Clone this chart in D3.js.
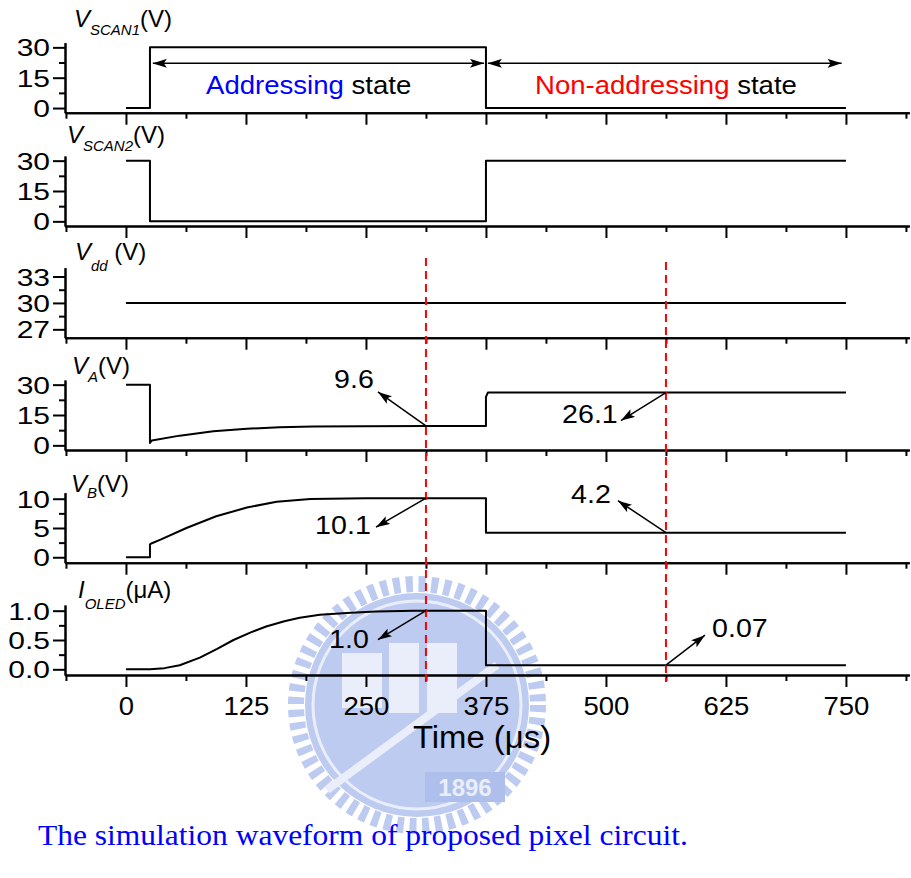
<!DOCTYPE html>
<html>
<head>
<meta charset="utf-8">
<script src="https://cdn.jsdelivr.net/npm/d3@7"></script>
<style>
  body { margin: 0; background: #fff; }
  svg { display: block; }
  text { font-family: "Liberation Sans", Arial, sans-serif; }
  text.caption { font-family: "Liberation Serif", "Times New Roman", serif; }
</style>
</head>
<body>
<div id="chart"></div>
<script>
// time axis ticks (us)
const timeTicks = [0, 125, 250, 375, 500, 625, 750];
const timeMinor = [-62.5, 62.5, 187.5, 312.5, 437.5, 562.5, 687.5, 812.5];

// waveforms, [time (us), value]
const vScan1 = [[0, 0], [25, 0], [25, 30], [375, 30], [375, 0], [750, 0]];
const vScan2 = [[0, 30], [25, 30], [25, 0], [375, 0], [375, 30], [750, 30]];
const vDD = [[0, 30], [750, 30]];
const vA = [[0, 30], [25, 30], [25, 1.2], [27, 2.4], [56, 4.8], [91, 7.0], [126, 8.2], [160, 8.9],
            [195, 9.3], [247, 9.5], [312.5, 9.6], [375, 9.6], [375, 24], [377, 26.1], [750, 26.1]];
const vB = [[0, 0], [25, 0], [25, 2.2], [27, 2.4], [36, 3.0], [63, 5.0], [94, 7.0], [126, 8.5],
            [157, 9.5], [192, 9.95], [250, 10.1], [375, 10.1], [375, 4.2], [750, 4.2]];
const iOLED = [[0, 0], [25, 0], [40, 0.02], [56, 0.07], [77, 0.2], [95, 0.35], [112, 0.5], [130, 0.63],
               [146, 0.73], [165, 0.82], [181, 0.88], [202, 0.93], [230, 0.96], [260, 0.985], [300, 0.998],
               [375, 1.0], [375, 0.07], [750, 0.07]];

// y ticks for each panel
const scanTicks = [0, 15, 30], scanMinor = [7.5, 22.5];
const vddTicks = [27, 30, 33], vddMinor = [28.5, 31.5];
const vbTicks = [0, 5, 10], vbMinor = [2.5, 7.5];
const iTicks = [0, 0.5, 1.0], iMinor = [0.25, 0.75];

// readouts marked with arrows
const markerTimes = [312.5, 562.5];

const W = 911, H = 878;
const SX = 1.1;   // the source text is slightly wide
const SXY = 1.25; // y tick labels are wider still

const svg = d3.select("#chart").append("svg")
    .attr("width", W)
    .attr("height", H);

const defs = svg.append("defs");
defs.append("marker")
    .attr("id", "head")
    .attr("viewBox", "0 0 14 9")
    .attr("refX", 14).attr("refY", 4.5)
    .attr("markerWidth", 14).attr("markerHeight", 9)
    .attr("markerUnits", "userSpaceOnUse")
    .attr("orient", "auto-start-reverse")
    .append("path")
    .attr("d", "M0,0 L14,4.5 L0,9 L3,4.5 z")
    .attr("fill", "black");

// faint watermark behind the plot
const wm = svg.append("g").attr("transform", "translate(417,705)").attr("opacity", 0.75);
const wmColor = "#a8baec", wmLight = "#e3e9f9";
wm.append("circle").attr("r", 121).attr("fill", "none")
    .attr("stroke", wmColor).attr("stroke-width", 16)
    .attr("stroke-dasharray", "7,5.7");
wm.append("circle").attr("r", 112).attr("fill", wmColor);
wm.append("circle").attr("r", 104).attr("fill", "none").attr("stroke", wmLight).attr("stroke-width", 3);
wm.append("rect").attr("x", -75).attr("y", -52).attr("width", 40).attr("height", 55).attr("fill", wmLight);
wm.append("rect").attr("x", -28).attr("y", -62).attr("width", 30).attr("height", 70).attr("fill", wmLight);
wm.append("rect").attr("x", 10).attr("y", -62).attr("width", 30).attr("height", 70).attr("fill", wmLight);
wm.append("line").attr("x1", -90).attr("y1", 85).attr("x2", 80).attr("y2", -40)
    .attr("stroke", wmLight).attr("stroke-width", 8);
wm.append("rect").attr("x", 8).attr("y", 67).attr("width", 80).attr("height", 30).attr("fill", "#93aae6");
wm.append("text").attr("x", 48).attr("y", 91).attr("text-anchor", "middle")
    .attr("font-size", 24).attr("font-weight", "bold").attr("fill", wmLight).text("1896");

// shared time scale
const x = d3.scaleLinear().domain([-63.5, 816]).range([65, 909.3]);

const panels = [
    {data: vScan1, axisY: 112.7, domain: [-2.3, 32.3], ticks: scanTicks, minor: scanMinor},
    {data: vScan2, axisY: 226, domain: [-2.3, 32.3], ticks: scanTicks, minor: scanMinor},
    {data: vDD, axisY: 337.7, domain: [26.05, 34.0], ticks: vddTicks, minor: vddMinor},
    {data: vA, axisY: 450, domain: [-2.3, 32.3], ticks: scanTicks, minor: scanMinor},
    {data: vB, axisY: 562.7, domain: [-0.93, 11.03], ticks: vbTicks, minor: vbMinor},
    {data: iOLED, axisY: 675, domain: [-0.097, 1.097], ticks: iTicks, minor: iMinor, fmt: d3.format(".1f"), last: true}
];
const panelH = 70;

function styleAxis(g) {
    g.selectAll("path, line").attr("stroke", "black").attr("stroke-width", 2);
}

panels.forEach(function(p) {
    p.y = d3.scaleLinear().domain(p.domain).range([p.axisY, p.axisY - panelH]);
    const g = svg.append("g");

    // y axis
    const ya = g.append("g").attr("transform", "translate(65,0)")
        .call(d3.axisLeft(p.y).tickValues(p.minor).tickSize(6).tickSizeOuter(0).tickFormat(""));
    styleAxis(ya);
    const yb = g.append("g").attr("transform", "translate(65,0)")
        .call(d3.axisLeft(p.y).tickValues(p.ticks).tickSize(12).tickSizeOuter(0).tickPadding(3)
            .tickFormat(p.fmt || d3.format("d")));
    styleAxis(yb);
    yb.selectAll("text")
        .attr("font-size", 24)
        .attr("dy", "0.36em")
        .attr("transform", "scale(" + SXY + ",1)")
        .attr("x", -15 / SXY);

    // x axis
    const xa = g.append("g").attr("transform", "translate(0," + p.axisY + ")")
        .call(d3.axisBottom(x).tickValues(timeMinor).tickSize(6).tickSizeOuter(0).tickFormat(""));
    styleAxis(xa);
    const xb = g.append("g").attr("transform", "translate(0," + p.axisY + ")")
        .call(d3.axisBottom(x).tickValues(timeTicks).tickSize(12).tickSizeOuter(0).tickPadding(10)
            .tickFormat(p.last ? d3.format("d") : ""));
    styleAxis(xb);
    xb.selectAll("text")
        .attr("font-size", 25)
        .attr("transform", "scale(" + SX + ",1)");

    // trace
    const line = d3.line()
        .x(d => x(d[0]))
        .y(d => p.y(d[1]));
    g.append("path")
        .datum(p.data)
        .attr("d", line)
        .attr("fill", "none")
        .attr("stroke", "black")
        .attr("stroke-width", 2)
        .attr("stroke-linejoin", "round");
});

// panel titles
function title(px, py, main, sub, unit, subDy) {
    const t = svg.append("text")
        .attr("x", px).attr("y", py)
        .attr("font-size", 24);
    t.append("tspan").attr("font-style", "italic").text(main);
    t.append("tspan").attr("font-style", "italic").attr("font-size", 15).attr("dy", subDy).text(sub);
    t.append("tspan").attr("dy", -subDy).text(unit);
}
title(74, 27, "V", "SCAN1", "(V)", 8);
title(67, 143, "V", "SCAN2", "(V)", 8);
title(75, 260, "V", "dd", " (V)", 11);
title(72, 374, "V", "A", "(V)", 8);
title(71, 492, "V", "B", "(V)", 6);
title(78, 598, "I", "OLED", "(\u03bcA)", 11);

// state arrows on the first panel
const p1 = panels[0];
const stateY = p1.y(22.1);
[[28, 373], [377, 745.5]].forEach(function(seg) {
    svg.append("line")
        .attr("x1", x(seg[0])).attr("x2", x(seg[1]))
        .attr("y1", stateY).attr("y2", stateY)
        .attr("stroke", "black").attr("stroke-width", 1.5)
        .attr("marker-start", "url(#head)")
        .attr("marker-end", "url(#head)");
});

function stateLabel(px, py, word, color) {
    const t = svg.append("text")
        .attr("transform", "translate(" + px + "," + py + ") scale(1.06,1)")
        .attr("font-size", 26);
    t.append("tspan").attr("fill", color).text(word);
    t.append("tspan").attr("fill", "black").text(" state");
}
stateLabel(206, 93.5, "Addressing", "#0000ff");
stateLabel(535, 94, "Non-addressing", "#ff0000");

// red dashed readout lines
svg.append("line")
    .attr("x1", x(markerTimes[0])).attr("x2", x(markerTimes[0]))
    .attr("y1", 258).attr("y2", 682)
    .attr("stroke", "#ff0000").attr("stroke-width", 2).attr("stroke-dasharray", "8,5");
svg.append("line")
    .attr("x1", x(markerTimes[1])).attr("x2", x(markerTimes[1]))
    .attr("y1", 262).attr("y2", 682)
    .attr("stroke", "#ff0000").attr("stroke-width", 2).attr("stroke-dasharray", "8,5");

// value callouts: panel, time, value, arrow offset, label offset
const callouts = [
    {panel: 3, t: 312.5, v: 9.6, label: "9.6", dx: -48, dy: -34, lx: -72, ly: -38},
    {panel: 3, t: 562.5, v: 26.1, label: "26.1", dx: -45, dy: 28, lx: -76, ly: 30},
    {panel: 4, t: 312.5, v: 10.1, label: "10.1", dx: -50, dy: 29, lx: -83, ly: 36},
    {panel: 4, t: 562.5, v: 4.2, label: "4.2", dx: -48, dy: -32, lx: -75, ly: -30},
    {panel: 5, t: 312.5, v: 1.0, label: "1.0", dx: -48, dy: 29, lx: -77, ly: 37},
    {panel: 5, t: 562.5, v: 0.07, label: "0.07", dx: 39, dy: -30, lx: 74, ly: -28}
];
callouts.forEach(function(c) {
    const sx = x(c.t), sy = panels[c.panel].y(c.v);
    svg.append("line")
        .attr("x1", sx).attr("y1", sy)
        .attr("x2", sx + c.dx).attr("y2", sy + c.dy)
        .attr("stroke", "black").attr("stroke-width", 1.5)
        .attr("marker-end", "url(#head)");
    svg.append("text")
        .attr("transform", "translate(" + (sx + c.lx) + "," + (sy + c.ly) + ") scale(" + SX + ",1)")
        .attr("text-anchor", "middle")
        .attr("font-size", 26)
        .text(c.label);
});

// x axis title
svg.append("text")
    .attr("transform", "translate(482,748) scale(1.06,1)")
    .attr("text-anchor", "middle")
    .attr("font-size", 31)
    .text("Time (\u03bcs)");

// caption
svg.append("text")
    .attr("class", "caption")
    .attr("transform", "translate(38,845) scale(1.05,1)")
    .attr("font-size", 30)
    .attr("fill", "#0000ff")
    .text("The simulation waveform of proposed pixel circuit.");
</script>
</body>
</html>
